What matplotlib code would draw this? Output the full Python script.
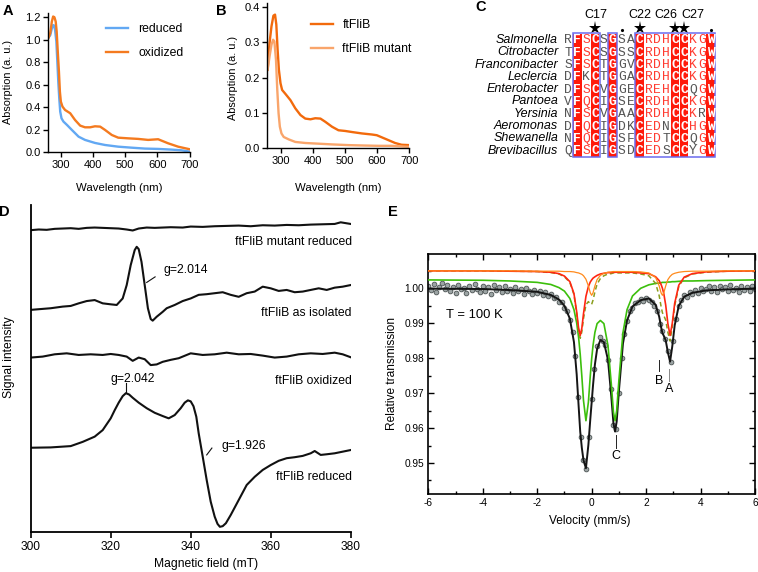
import numpy as np
import matplotlib
matplotlib.use('Agg')
import matplotlib.pyplot as plt
from matplotlib.patches import Rectangle
from matplotlib.ticker import MultipleLocator, FormatStrFormatter

plt.rcParams['font.family'] = ['Liberation Sans', 'DejaVu Sans']
plt.rcParams['axes.unicode_minus'] = False

# ---------------- data ----------------
# A: UV-vis, reduced / oxidized
wl_red = [262, 267, 272, 276, 279, 282, 286, 289, 292, 295, 298, 302, 308, 319, 334, 355,
          375, 406, 437, 478, 520, 561, 602, 643, 674, 700]
abs_red = [1.02, 1.04, 1.10, 1.13, 1.126, 1.087, 0.984, 0.806, 0.628, 0.48, 0.361, 0.302,
           0.273, 0.243, 0.199, 0.139, 0.11, 0.083, 0.065, 0.05, 0.041, 0.033, 0.03, 0.024,
           0.018, 0.006]
wl_ox = [262, 267, 272, 276, 280, 284, 287, 291, 294, 297, 300, 305, 313, 329, 344, 360,
         375, 391, 406, 422, 437, 458, 478, 509, 540, 571, 602, 633, 664, 700]
abs_ox = [1.02, 1.058, 1.161, 1.206, 1.20, 1.161, 1.073, 0.865, 0.717, 0.539, 0.45, 0.406,
          0.376, 0.347, 0.287, 0.237, 0.222, 0.222, 0.231, 0.228, 0.199, 0.154, 0.13, 0.124,
          0.119, 0.11, 0.116, 0.08, 0.05, 0.027]

# B: ftFliB / mutant
wl_wt = [260, 266, 272, 278, 283, 287, 291, 295, 300, 305, 316, 331, 346, 362, 377, 393,
         408, 424, 439, 460, 480, 501, 522, 553, 584, 599, 625, 656, 676, 700]
abs_wt = [0.222, 0.298, 0.345, 0.375, 0.378, 0.35, 0.279, 0.222, 0.184, 0.165, 0.153, 0.136,
          0.113, 0.094, 0.084, 0.082, 0.085, 0.084, 0.075, 0.061, 0.051, 0.049, 0.046, 0.042,
          0.039, 0.037, 0.027, 0.015, 0.010, 0.009]
wl_mut = [260, 266, 272, 277, 281, 286, 290, 294, 298, 303, 310, 326, 346, 377, 419, 460,
          511, 553, 604, 645, 700]
abs_mut = [0.222, 0.26, 0.293, 0.307, 0.302, 0.25, 0.165, 0.099, 0.061, 0.042, 0.032, 0.025,
           0.018, 0.015, 0.013, 0.011, 0.009, 0.008, 0.007, 0.007, 0.004]

# C: sequence alignment
species = ['Salmonella', 'Citrobacter', 'Franconibacter', 'Leclercia', 'Enterobacter',
           'Pantoea', 'Yersinia', 'Aeromonas', 'Shewanella', 'Brevibacillus']
seqs = ['RFSCSGSACRDHCCKGW', 'TFSCSGSSCRDHCCKGW', 'SFSCTGGVCRDHCCKGW', 'DFKCTGGACRDHCCKGW',
        'DFSCVGGECREHCCQGW', 'VFQCIGSECRDHCCKGW', 'NFSCVGAACRDHCCKRW', 'DFQCIGDKCEDNCCHGW',
        'NFQCIGSFCEDTCCQGW', 'QFSCIGSDCEDSCCYGW']
# I = identical (red box), s = similar (red letter), . = other
masks = ['.IsI.I..IsssIIssI', '.IsI.I..IsssIIssI', '.IsI.I..IsssIIssI', '.I.I.I..IsssIIssI',
         '.IsI.I..IsssII.sI', '.IsI.I..IsssIIssI', '.IsI.I..IsssIIs.I', '.IsI.I..Iss.IIssI',
         '.IsI.I..Iss.II.sI', '.IsI.I..Iss.II.sI']
boxes = [(1, 3), (5, 5), (8, 16)]
cys_labels = [('C17', 3.1), ('C22', 8.05), ('C26', 11.0), ('C27', 14.0)]
star_cols = [3, 8, 12, 13]
dot_cols = [6, 16]

# D: EPR spectra (arbitrary units)
field_mr = [300, 302, 304, 306, 308, 310, 312, 314, 316, 318, 320, 322, 324, 325.5, 327, 329,
            331, 333, 335, 338, 340, 343, 346, 349, 352, 355, 358, 361, 364, 367, 370, 373,
            376, 377.5, 379, 380]
sig_mr = [92.3, 92.5, 92.4, 92.7, 92.8, 92.9, 92.7, 93.0, 93.1, 93.0, 92.9, 92.8, 92.5, 92.2,
          92.8, 93.1, 93.0, 93.1, 93.2, 93.1, 93.4, 93.3, 93.5, 93.6, 93.7, 93.5, 93.8, 93.7,
          93.9, 93.8, 94.0, 94.1, 94.2, 94.7, 94.4, 94.2]
field_iso = [300, 305, 308, 310, 312, 314, 316, 318, 320, 321.5, 323, 324, 325, 326, 326.5,
             327, 327.7, 328.5, 329.3, 330, 330.5, 331.5, 333, 334, 336, 338, 340, 342, 344,
             346, 348, 350, 352, 354, 356, 358, 360, 362, 364, 366, 368, 370, 372, 374, 376,
             378, 380]
sig_iso = [67.9, 68.4, 68.9, 69.1, 69.9, 70.6, 70.9, 69.9, 69.6, 69.4, 71.4, 75.5, 81.6, 86.2,
           87.2, 86.5, 82.6, 75.5, 68.4, 65.1, 64.6, 65.8, 67.3, 68.4, 69.4, 70.6, 71.4, 72.5,
           72.7, 73.0, 73.3, 72.5, 71.9, 73.0, 73.5, 75.0, 74.5, 73.7, 74.0, 73.3, 73.5, 74.0,
           74.5, 74.0, 74.7, 75.0, 75.5]
field_ox = [300, 303, 306, 309, 312, 315, 318, 320, 322, 324, 325.5, 327, 328.5, 330, 331.5,
            333, 335, 337, 340, 343, 346, 349, 352, 355, 358, 361, 364, 367, 370, 373, 376,
            378, 380]
sig_ox = [53.3, 53.6, 54.3, 54.6, 54.1, 54.3, 54.1, 54.4, 54.1, 53.6, 52.3, 53.3, 52.8, 51.0,
          51.2, 52.0, 52.6, 53.1, 54.6, 54.1, 54.3, 54.8, 54.3, 54.4, 53.9, 53.3, 53.6, 54.3,
          54.6, 54.4, 54.8, 54.3, 53.4]
field_rd = [300, 305, 310, 313, 316, 318, 320, 321, 322, 323, 323.8, 324.6, 325.5, 327, 329,
            331, 333, 334.5, 336, 337.5, 338.5, 339.3, 340, 340.7, 341.4, 342, 343, 344, 345,
            346, 346.7, 347.3, 348, 348.8, 350, 352, 354, 356, 358, 360, 362, 364, 366, 368,
            370, 371, 372.5, 374, 376, 378, 380]
sig_rd = [25.7, 25.8, 26.2, 27.5, 29.1, 31.1, 34.7, 37.2, 39.5, 41.5, 42.4, 42.0, 41.0, 39.5,
          37.8, 36.4, 35.4, 34.7, 35.7, 37.8, 39.5, 40.2, 39.9, 38.4, 35.2, 30.1, 23.0, 15.8,
          9.2, 4.6, 2.4, 1.5, 1.7, 2.6, 5.1, 9.7, 14.3, 16.8, 18.9, 20.4, 21.7, 22.5, 22.8,
          23.2, 24.0, 24.7, 23.5, 23.7, 24.0, 24.5, 25.0]

# E: Mossbauer spectrum
trans_data = [1.0008, 0.9995, 1.0012, 0.9990, 1.0005, 1.0015, 0.9998, 1.0010, 0.9992, 1.0004,
              0.9988, 1.0009, 0.9997, 1.0002, 0.9986, 1.0006, 0.9994, 1.0011, 0.9999, 0.9989,
              1.0007, 0.9993, 1.0003, 0.9985, 1.0009, 0.9996, 1.0004, 0.9990, 1.0006, 0.9992,
              0.9998, 0.9987, 1.0005, 0.9993, 0.9999, 0.9984, 1.0002, 0.9991, 0.9985, 0.9996,
              0.9986, 0.9992, 0.9982, 0.9989, 0.9978, 0.9984, 0.9972, 0.9975, 0.9962, 0.9962,
              0.9945, 0.9936, 0.9908, 0.9875, 0.9805, 0.9690, 0.9575, 0.9510, 0.9482, 0.9575,
              0.9683, 0.9770, 0.9835, 0.9862, 0.9850, 0.9838, 0.9795, 0.9712, 0.9610, 0.9598,
              0.9700, 0.9800, 0.9870, 0.9905, 0.9935, 0.9945, 0.9958, 0.9962, 0.9970, 0.9963,
              0.9972, 0.9966, 0.9962, 0.9950, 0.9935, 0.9898, 0.9878, 0.9855, 0.9820, 0.9788,
              0.9850, 0.9912, 0.9948, 0.9966, 0.9980, 0.9976, 0.9990, 0.9984, 0.9995, 0.9988,
              1.0002, 0.9991, 0.9998, 1.0006, 0.9993, 1.0003, 0.9990, 1.0008, 0.9997, 1.0004,
              0.9992, 1.0010, 0.9996, 1.0002, 0.9989, 1.0007, 0.9995, 1.0003, 0.9993, 1.0006,
              0.9998]
vel_data = np.linspace(-6, 6, len(trans_data))

vel_fit = [-6.0, -4.0, -3.0, -2.0, -1.5, -1.2, -1.0, -0.8, -0.65, -0.55, -0.48, -0.42, -0.36,
           -0.3, -0.21, -0.12, -0.05, 0.0, 0.05, 0.12, 0.2, 0.32, 0.45, 0.6, 0.72, 0.8, 0.86,
           0.92, 1.0, 1.15, 1.3, 1.5, 1.8, 2.1, 2.35, 2.48, 2.55, 2.6, 2.65, 2.72, 2.8, 2.88,
           2.96, 3.05, 3.2, 3.4, 3.7, 4.2, 5.0, 6.0]
fit_orange = [1.0050, 1.0050, 1.0050, 1.0049, 1.0049, 1.0049, 1.0048, 1.0048, 1.0047, 1.0045,
              1.0044, 1.0042, 1.0040, 1.0036, 1.0026, 1.0007, 0.9987, 0.9980, 0.9987, 1.0007,
              1.0025, 1.0037, 1.0043, 1.0046, 1.0047, 1.0048, 1.0048, 1.0048, 1.0048, 1.0048,
              1.0048, 1.0048, 1.0047, 1.0044, 1.0031, 1.0007, 0.9987, 0.9980, 0.9987, 1.0007,
              1.0025, 1.0034, 1.0040, 1.0043, 1.0046, 1.0048, 1.0049, 1.0049, 1.0050, 1.0050]
fit_red = [1.0050, 1.0050, 1.0049, 1.0048, 1.0046, 1.0042, 1.0035, 1.0019, 0.9985, 0.9933,
           0.9886, 0.9865, 0.9886, 0.9927, 0.9977, 1.0005, 1.0018, 1.0024, 1.0029, 1.0033,
           1.0037, 1.0041, 1.0043, 1.0045, 1.0045, 1.0046, 1.0046, 1.0046, 1.0046, 1.0046,
           1.0046, 1.0046, 1.0044, 1.0042, 1.0033, 1.0022, 1.0011, 1.0000, 0.9985, 0.9952,
           0.9899, 0.9865, 0.9899, 0.9957, 1.0009, 1.0032, 1.0042, 1.0047, 1.0049, 1.0050]
fit_green = [1.0024, 1.0023, 1.0021, 1.0017, 1.0011, 1.0002, 0.9992, 0.9971, 0.9939, 0.9901,
             0.9860, 0.9811, 0.9748, 0.9679, 0.9621, 0.9674, 0.9750, 0.9798, 0.9836, 0.9874,
             0.9899, 0.9908, 0.9899, 0.9836, 0.9728, 0.9646, 0.9621, 0.9650, 0.9736, 0.9873,
             0.9939, 0.9978, 1.0000, 1.0010, 1.0014, 1.0015, 1.0016, 1.0017, 1.0017, 1.0017,
             1.0018, 1.0018, 1.0019, 1.0019, 1.0020, 1.0021, 1.0021, 1.0022, 1.0023, 1.0024]
fit_dashed = [1.0050, 1.0050, 1.0049, 1.0048, 1.0045, 1.0041, 1.0033, 1.0017, 0.9982, 0.9928,
              0.9880, 0.9857, 0.9876, 0.9913, 0.9953, 0.9962, 0.9955, 0.9954, 0.9966, 0.9990,
              1.0012, 1.0028, 1.0036, 1.0041, 1.0042, 1.0044, 1.0044, 1.0044, 1.0044, 1.0044,
              1.0044, 1.0044, 1.0041, 1.0036, 1.0014, 0.9979, 0.9948, 0.9930, 0.9922, 0.9909,
              0.9874, 0.9849, 0.9889, 0.9950, 1.0005, 1.0030, 1.0041, 1.0046, 1.0049, 1.0050]
fit_total = [0.9999, 0.9998, 0.9995, 0.9990, 0.9981, 0.9968, 0.9950, 0.9913, 0.9846, 0.9754,
             0.9665, 0.9590, 0.9543, 0.9508, 0.9485, 0.9552, 0.9625, 0.9673, 0.9722, 0.9782,
             0.9826, 0.9852, 0.9846, 0.9795, 0.9692, 0.9614, 0.9590, 0.9619, 0.9705, 0.9842,
             0.9908, 0.9948, 0.9966, 0.9971, 0.9953, 0.9919, 0.9889, 0.9872, 0.9864, 0.9851,
             0.9817, 0.9790, 0.9833, 0.9894, 0.9950, 0.9976, 0.9987, 0.9994, 0.9997, 0.9999]

# ---------------- figure ----------------
W, H = 758, 572
fig = plt.figure(figsize=(W / 100, H / 100), dpi=100)


def add_ax(l, t, r, b):
    return fig.add_axes([l / W, 1 - b / H, (r - l) / W, (b - t) / H])


def ftext(x, y, s, **kw):
    fig.text(x / W, 1 - y / H, s, **kw)


def style_uv(ax):
    for s in ['top', 'right']:
        ax.spines[s].set_visible(False)
    for s in ['left', 'bottom']:
        ax.spines[s].set_linewidth(1.0)
    ax.tick_params(direction='out', length=3.5, width=1.0, labelsize=8, pad=2)
    ax.set_xticks([300, 400, 500, 600, 700])


# A
axA = add_ax(48.3, 12.7, 189.7, 152.3)
axA.plot(wl_red, abs_red, color='#62a8f3', lw=1.7, label='reduced')
axA.plot(wl_ox, abs_ox, color='#f47a1f', lw=1.7, label='oxidized')
axA.set_xlim(261, 700)
axA.set_ylim(0, 1.24)
axA.set_yticks(np.arange(0, 1.21, 0.2))
axA.yaxis.set_major_formatter(FormatStrFormatter('%.1f'))
style_uv(axA)
axA.legend(frameon=False, loc='upper left', bbox_to_anchor=(0.41, 0.925), borderpad=0,
           borderaxespad=0, fontsize=8.8, handlelength=1.8, handletextpad=0.8,
           labelspacing=0.95)
ftext(8, 82, 'Absorption (a. u.)', rotation=90, ha='center', va='center', fontsize=7.8)
ftext(119, 188, 'Wavelength (nm)', ha='center', va='center', fontsize=8.2)

# B
axB = add_ax(267.3, 3.3, 409.3, 148.3)
axB.plot(wl_wt, abs_wt, color='#f26a0c', lw=1.7, label='ftFliB')
axB.plot(wl_mut, abs_mut, color='#f9a56b', lw=1.7, label='ftFliB mutant')
axB.set_xlim(259, 700)
axB.set_ylim(0, 0.41)
axB.set_yticks([0, 0.1, 0.2, 0.3, 0.4])
axB.yaxis.set_major_formatter(FormatStrFormatter('%.1f'))
style_uv(axB)
axB.legend(frameon=False, loc='upper left', bbox_to_anchor=(0.305, 0.89), borderpad=0,
           borderaxespad=0, fontsize=8.8, handlelength=1.8, handletextpad=0.8,
           labelspacing=0.95)
ftext(233, 78, 'Absorption (a. u.)', rotation=90, ha='center', va='center', fontsize=7.8)
ftext(338, 188, 'Wavelength (nm)', ha='center', va='center', fontsize=8.2)

# C
axC = add_ax(563.85, 33.85, 715.15, 156.85)
axC.set_xlim(-0.5, 16.5)
axC.set_ylim(9.5, -0.5)
axC.axis('off')
red = '#ff1a0a'
id_cols = [j for j, m in enumerate(masks[0]) if m == 'I']
axC.bar(id_cols, [10] * len(id_cols), bottom=-0.5, width=0.97, color=red, zorder=1)
for c0, c1 in boxes:
    axC.add_patch(Rectangle((c0 - 0.52, -0.55), c1 - c0 + 1.04, 10.1, fill=False,
                            edgecolor='#6b6bef', lw=1.1, zorder=3, clip_on=False))
for i, (name, seq, mask) in enumerate(zip(species, seqs, masks)):
    axC.text(-1.15, i, name, ha='right', va='center', style='italic', fontsize=9)
    for j, (ch, m) in enumerate(zip(seq, mask)):
        if m == 'I':
            axC.text(j, i + 0.04, ch, ha='center', va='center', family='Liberation Mono',
                     weight='bold', color='white', fontsize=9.4, zorder=4)
        else:
            col = '#ff3b30' if m == 's' else '#555555'
            axC.text(j, i + 0.04, ch, ha='center', va='center', family='Liberation Mono',
                     color=col, fontsize=9.4, zorder=4)
for lab, xc in cys_labels:
    axC.text(xc, -2.0, lab, ha='center', va='center', fontsize=9, clip_on=False)
axC.plot(star_cols, [-0.95] * len(star_cols), ls='none', marker='*', ms=9.5, color='black',
         mew=0, clip_on=False)
axC.plot(dot_cols, [-0.8] * len(dot_cols), ls='none', marker='.', ms=2.5, color='black',
         clip_on=False)

# D
axD = add_ax(30.7, 205, 350.7, 531.7)
for fx, sy in [(field_mr, sig_mr), (field_iso, sig_iso), (field_ox, sig_ox),
               (field_rd, sig_rd)]:
    axD.plot(fx, sy, color='#111111', lw=1.5)
axD.set_xlim(300, 380)
axD.set_ylim(0, 100)
axD.set_yticks([])
axD.set_xticks([300, 320, 340, 360, 380])
for s in ['top', 'right']:
    axD.spines[s].set_visible(False)
for s in ['left', 'bottom']:
    axD.spines[s].set_linewidth(1.3)
axD.tick_params(direction='out', length=4, width=1.2, labelsize=8.6, pad=3)
dkw = dict(ha='right', va='center', fontsize=8.8)
axD.text(380.3, 88.8, 'ftFliB mutant reduced', **dkw)
axD.text(380.3, 67.0, 'ftFliB as isolated', **dkw)
axD.text(380.3, 46.1, 'ftFliB oxidized', **dkw)
axD.text(380.3, 16.8, 'ftFliB reduced', **dkw)
axD.text(333.1, 80.1, 'g=2.014', ha='left', va='center', fontsize=8.8)
axD.plot([329.0, 331.1], [76.3, 78.0], color='#111111', lw=0.8)
axD.text(325.5, 46.6, 'g=2.042', ha='center', va='center', fontsize=8.8)
axD.plot([323.8, 323.8], [42.8, 45.4], color='#111111', lw=0.8)
axD.text(347.75, 26.2, 'g=1.926', ha='left', va='center', fontsize=8.8)
axD.plot([344.0, 345.3], [23.5, 25.6], color='#111111', lw=0.8)
ftext(9, 357, 'Signal intensity', rotation=90, ha='center', va='center', fontsize=8.7)
ftext(206, 564, 'Magnetic field (mT)', ha='center', va='center', fontsize=8.7)

# E
axE = add_ax(428.3, 254, 755, 494.3)
axE.plot(vel_data, trans_data, 'o', ms=3.4, mfc='#9ca4a4', mec='#4b5353', mew=0.6, zorder=1)
axE.plot(vel_fit, fit_total, color='#151515', lw=1.4, zorder=2)
axE.plot(vel_fit, fit_green, color='#3cbf0c', lw=1.2, zorder=3)
axE.plot(vel_fit, fit_dashed, color='#8a9e1e', lw=1.1, ls=(0, (3, 2)), zorder=4)
axE.plot(vel_fit, fit_red, color='#ff2612', lw=1.2, zorder=5)
axE.plot(vel_fit, fit_orange, color='#ff8a1c', lw=0.9, zorder=6)
axE.set_xlim(-6, 6)
axE.set_ylim(0.94104, 1.00982)
axE.set_xticks([-6, -4, -2, 0, 2, 4, 6])
axE.set_yticks([0.95, 0.96, 0.97, 0.98, 0.99, 1.00])
axE.yaxis.set_major_formatter(FormatStrFormatter('%.2f'))
axE.xaxis.set_minor_locator(MultipleLocator(1))
axE.yaxis.set_minor_locator(MultipleLocator(0.005))
for s in axE.spines.values():
    s.set_linewidth(1.2)
axE.tick_params(which='both', direction='in', top=True, right=True, width=1.0,
                labelsize=7.3, pad=3)
axE.tick_params(which='major', length=4)
axE.tick_params(which='minor', length=2.5)
axE.text(-5.35, 0.9925, 'T = 100 K', ha='left', va='center', fontsize=9.4)
axE.plot([0.88, 0.88], [0.9580, 0.9542], color='#222222', lw=0.7)
axE.text(0.88, 0.9520, 'C', ha='center', va='center', fontsize=9)
axE.plot([2.47, 2.47], [0.9795, 0.9762], color='#222222', lw=0.7)
axE.text(2.47, 0.9735, 'B', ha='center', va='center', fontsize=9)
axE.plot([2.85, 2.85], [0.9768, 0.9734], color='#888888', lw=0.7)
axE.text(2.85, 0.9711, 'A', ha='center', va='center', fontsize=9)
ftext(392, 373, 'Relative transmission', rotation=90, ha='center', va='center', fontsize=8.6)
ftext(590, 521, 'Velocity (mm/s)', ha='center', va='center', fontsize=8.6)

# panel letters
for lab, x, y in [('A', 7.5, 11), ('B', 221, 11), ('C', 480.5, 7), ('D', 4, 212),
                  ('E', 393, 212)]:
    ftext(x, y, lab, ha='center', va='center', fontsize=10.5, weight='bold')

fig.savefig('out.png', dpi=100)
